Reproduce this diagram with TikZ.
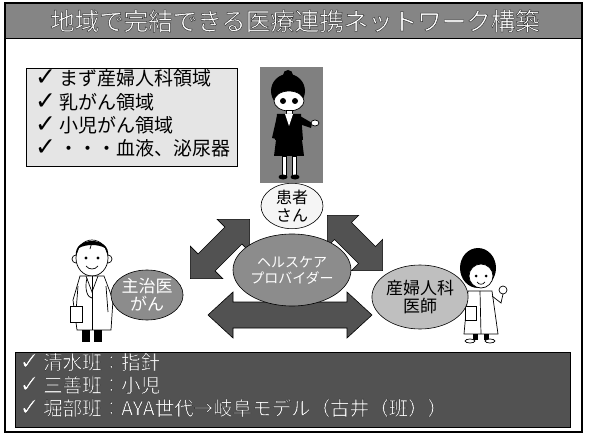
\documentclass[tikz,border=0pt]{standalone}
\usepackage{fontspec}
\setmainfont{Noto Sans CJK JP}
\newfontfamily\checkfont{DejaVu Sans}
\usetikzlibrary{shapes.geometric}

\newcommand{\ck}{\smash{\checkfont\fontsize{25}{19}\selectfont ✓}\hspace{3pt}}
% white lettering with a thin dark stroked outline (text render mode 2)
\newcommand{\whiteout}[2][0.4]{{\color{white}\special{pdf:literal direct 2 Tr #1 w 0.2 G}#2\special{pdf:literal direct 0 Tr}}}

% double-headed block arrow: centre x, centre y, angle, half length,
% head length, head half width, shaft half width
\newcommand{\dblarrow}[7]{%
  \begin{scope}[shift={(#1,#2)},rotate=#3]
    \filldraw[arrowbody] (-#4,0) -- ({-#4+#5},{-#6}) -- ({-#4+#5},{-#7})
      -- ({#4-#5},{-#7}) -- ({#4-#5},{-#6}) -- (#4,0) -- ({#4-#5},{#6})
      -- ({#4-#5},{#7}) -- ({-#4+#5},{#7}) -- ({-#4+#5},{#6}) -- cycle;
  \end{scope}}

\begin{document}
\begin{tikzpicture}[x=1pt,y=-1pt,
  arrowbody/.style={fill=black!68,draw=black,line width=0.6pt},
  bubble/.style={ellipse,draw=black,line width=0.6pt,inner sep=0pt,align=center},
  panel/.style={draw=black,line width=0.8pt,anchor=north west,inner sep=0pt},
  ink/.style={draw=black,line width=0.7pt},
  listtext/.style={anchor=west,inner sep=0pt,font=\fontsize{19}{19}\selectfont},
  teamtext/.style={anchor=west,inner sep=0pt,font=\fontsize{19.5}{19.5}\selectfont}]
\useasboundingbox (0,0) rectangle (590,436);
\fill[white] (0,0) rectangle (590,436);

% frame and title bar
\filldraw[fill=black!48,draw=black,line width=1pt] (5,3) rectangle (582,39);
\draw[line width=1.2pt] (5,3) rectangle (582,432);
\node[inner sep=0pt,font=\fontsize{24.5}{24.5}\selectfont] (title) at (295,21)
  {\whiteout[0.45]{地域で完結できる医療連携ネットワーク構築}};

% list of fields
\node[panel,fill=black!10,minimum width=211pt,minimum height=98pt] (fields) at (26,68) {};
\node[listtext] (f1) at (35,78)  {\ck まず産婦人科領域};
\node[listtext] (f2) at (35,102) {\ck 乳がん領域};
\node[listtext] (f3) at (35,125) {\ck 小児がん領域};
\node[listtext] (f4) at (35,148) {\ck ・・・血液、泌尿器};

% patient figure
\fill[black!50] (260,67) rectangle (323,183);
\fill[black] (288,91) ellipse [x radius=17pt,y radius=17pt];
\fill[black] (288,75) circle (5pt);
\filldraw[fill=white,ink] (289,101) ellipse [x radius=15pt,y radius=10pt];
\fill[black] (275,98) .. controls (280,87) and (298,87) .. (303,98) -- (303,92) .. controls (296,83) and (282,83) .. (275,92) -- cycle;
\fill[black] (283,101) circle (3pt);
\fill[black] (295,101) circle (3pt);
\filldraw[fill=white,ink] (286,110) rectangle (292,115);
\fill[black] (277,114) -- (301,114) -- (303,140) -- (275,140) -- cycle;
\fill[white] (285,114) -- (293,114) -- (289,126) -- cycle;
\fill[black] (300,116) -- (312,123) -- (311,128) -- (299,124) -- cycle;
\filldraw[fill=white,ink] (315,123) ellipse [x radius=4pt,y radius=3pt];
\fill[black] (277,116) -- (272,138) -- (276,139) -- (280,121) -- cycle;
\fill[black] (276,140) -- (302,140) -- (304,156) -- (274,156) -- cycle;
\filldraw[fill=white,ink] (282,156) rectangle (286,175);
\filldraw[fill=white,ink] (292,156) rectangle (296,175);
\fill[black] (283,177) ellipse [x radius=4.5pt,y radius=2.5pt];
\fill[black] (295,177) ellipse [x radius=4.5pt,y radius=2.5pt];

% attending doctor figure
\filldraw[fill=white,ink] (76,259) circle (4pt);
\filldraw[fill=white,ink] (108,259) circle (4pt);
\filldraw[fill=white,ink] (92,258) ellipse [x radius=16pt,y radius=18pt];
\fill[black] (76,256) .. controls (73,236) and (111,236) .. (108,256) -- (105,248) .. controls (98,244) and (86,244) .. (79,248) -- cycle;
\draw[ink] (92,242) -- (90,249);
\fill[black] (86,258) circle (1.6pt);
\fill[black] (98,258) circle (1.6pt);
\draw[ink] (86,266) .. controls (89,270) and (95,270) .. (98,266);
\filldraw[fill=white,ink] (80,276) -- (104,276) -- (113,300) -- (111,330) -- (77,330) -- (73,300) -- cycle;
\draw[ink] (92,276) -- (92,330);
\draw[ink] (86,276) -- (92,292) -- (98,276);
\draw[ink] (87,278) .. controls (84,290) and (88,298) .. (92,298);
\draw[ink] (78,286) -- (76,312);
\draw[ink] (106,286) -- (108,312);
\filldraw[fill=white,ink] (70,306) rectangle (82,322);
\fill[black] (82,330) rectangle (90,342);
\fill[black] (94,330) rectangle (102,342);

% obstetrician figure
\fill[black] (478,268) ellipse [x radius=18pt,y radius=20pt];
\filldraw[fill=white,ink] (481,276) ellipse [x radius=12pt,y radius=12pt];
\fill[black] (468,272) .. controls (472,258) and (492,256) .. (494,272) -- (494,262) .. controls (488,252) and (470,252) .. (466,264) -- cycle;
\fill[black] (476,276) circle (1.5pt);
\fill[black] (486,276) circle (1.5pt);
\draw[ink] (477,282) .. controls (479,285) and (483,285) .. (485,282);
\filldraw[fill=white,ink] (468,291) -- (492,291) -- (498,334) -- (464,334) -- cycle;
\draw[ink] (480,291) -- (481,334);
\draw[ink] (492,296) -- (501,303) -- (503,294);
\filldraw[fill=white,ink] (503,290) circle (4pt);
\filldraw[fill=white,ink] (465,306) rectangle (476,320);
\fill[black] (473,334) rectangle (478,340);
\fill[black] (484,334) rectangle (489,340);
\filldraw[fill=white,ink] (470,341) ellipse [x radius=5pt,y radius=2pt];
\filldraw[fill=white,ink] (490,341) ellipse [x radius=5pt,y radius=2pt];

% block arrows between the parties
\dblarrow{290}{315}{0}{82}{25}{23}{13}
\dblarrow{220}{249}{45}{42}{23}{23}{12}
\dblarrow{355}{243}{-45}{39}{22}{22}{12}

% parties
\node[bubble,fill=black!4,minimum width=62pt,minimum height=43pt,font=\fontsize{16}{18}\selectfont] (patient) at (292,206) {患者\\さん};
\node[bubble,fill=black!45,text=white,minimum width=88pt,minimum height=72pt,font=\fontsize{14}{16}\selectfont] (provider) at (292,270) {ヘルスケア\\プロバイダー};
\node[bubble,fill=black!45,text=white,minimum width=68pt,minimum height=50pt,font=\fontsize{17}{18}\selectfont] (gp) at (147,295) {主治医\\がん};
\node[bubble,fill=black!25,minimum width=70pt,minimum height=64pt,font=\fontsize{17}{18}\selectfont] (obgyn) at (420,297) {産婦人科\\医師};

% research groups
\node[panel,fill=black!68,minimum width=555pt,minimum height=75pt] (teams) at (15,352) {};
\node[teamtext] (t1) at (19,362) {\whiteout{\ck 清水班：指針}};
\node[teamtext] (t2) at (19,385) {\whiteout{\ck 三善班：小児}};
\node[teamtext] (t3) at (19,408) {\whiteout{\ck 堀部班：AYA世代→岐阜モデル（古井（班））}};
\end{tikzpicture}
\end{document}
